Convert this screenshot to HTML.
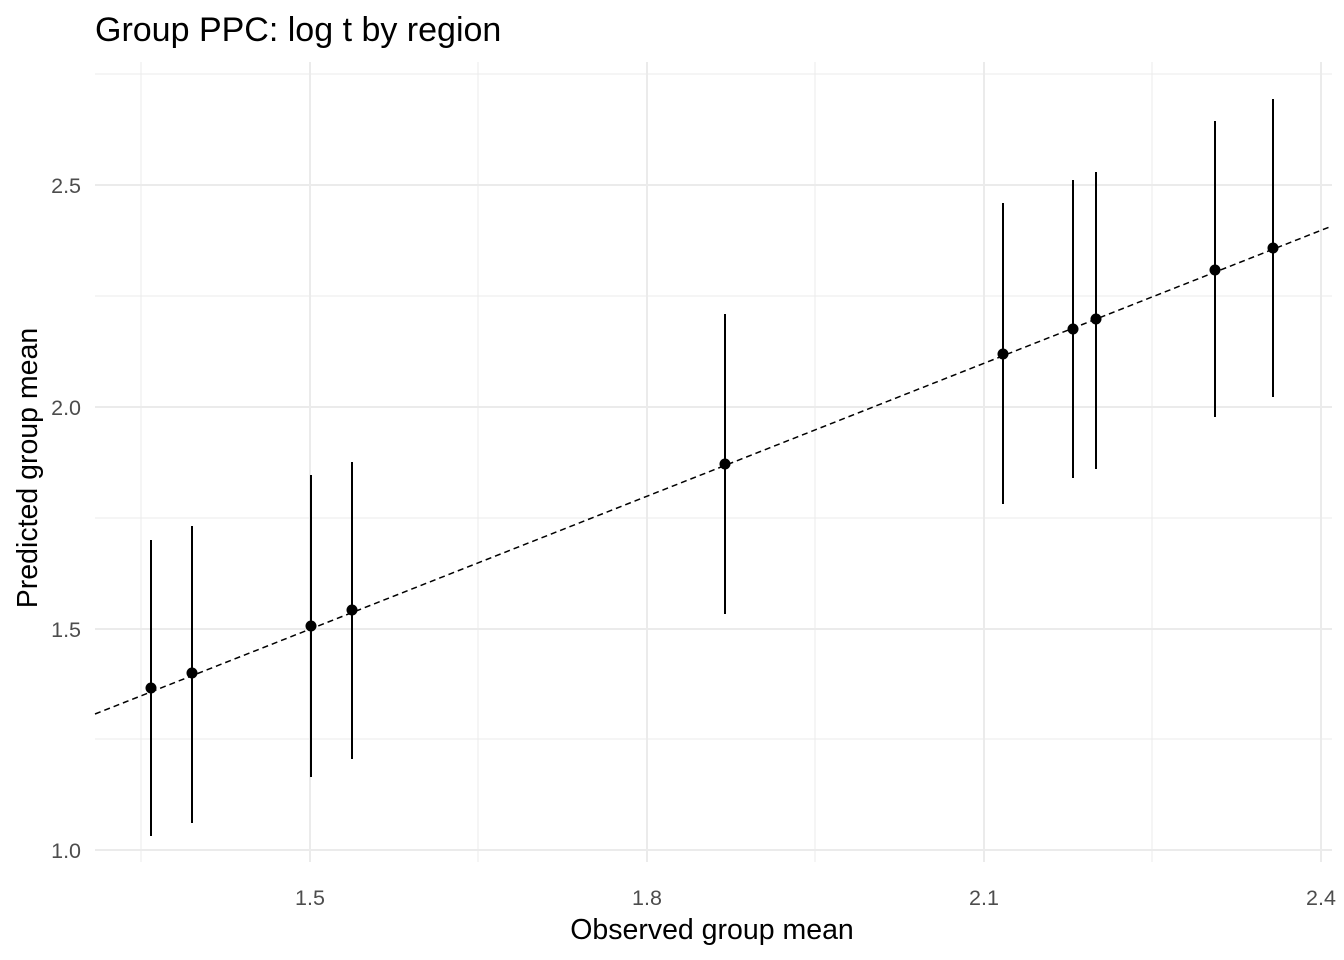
<!DOCTYPE html>
<html><head><meta charset="utf-8"><style>
html,body{margin:0;padding:0;background:#fff;}
svg{display:block;font-family:"Liberation Sans",Arial,sans-serif;}
</style></head><body>
<svg width="1344" height="960" xmlns="http://www.w3.org/2000/svg">
<rect width="1344" height="960" fill="#fff"/>
<g stroke="#ebebeb" stroke-width="1">
<line x1="95" x2="1332" y1="74" y2="74"/><line x1="95" x2="1332" y1="296" y2="296"/>
<line x1="95" x2="1332" y1="518" y2="518"/><line x1="95" x2="1332" y1="739" y2="739"/>
<line x1="141" x2="141" y1="62" y2="862"/><line x1="478" x2="478" y1="62" y2="862"/>
<line x1="815" x2="815" y1="62" y2="862"/><line x1="1152" x2="1152" y1="62" y2="862"/>
</g>
<g stroke="#ebebeb" stroke-width="2">
<line x1="95" x2="1332" y1="185" y2="185"/><line x1="95" x2="1332" y1="407" y2="407"/>
<line x1="95" x2="1332" y1="629" y2="629"/><line x1="95" x2="1332" y1="850" y2="850"/>
<line x1="310" x2="310" y1="62" y2="862"/><line x1="647" x2="647" y1="62" y2="862"/>
<line x1="984" x2="984" y1="62" y2="862"/><line x1="1321" x2="1321" y1="62" y2="862"/>
</g>
<line x1="95" y1="714" x2="1332" y2="226" stroke="#000" stroke-width="1.5" stroke-dasharray="6,4"/>
<g stroke="#000" stroke-width="2">
<line x1="151" x2="151" y1="540" y2="836"/><line x1="192" x2="192" y1="526" y2="823"/>
<line x1="311" x2="311" y1="475" y2="777"/><line x1="352" x2="352" y1="462" y2="759"/>
<line x1="725" x2="725" y1="314" y2="614"/><line x1="1003" x2="1003" y1="203" y2="504"/>
<line x1="1073" x2="1073" y1="180" y2="478"/><line x1="1096" x2="1096" y1="172" y2="469"/>
<line x1="1215" x2="1215" y1="121" y2="417"/><line x1="1273" x2="1273" y1="99" y2="397"/>
</g>
<g fill="#000">
<circle cx="151" cy="688" r="5.5"/><circle cx="192" cy="673" r="5.5"/>
<circle cx="311" cy="626" r="5.5"/><circle cx="352" cy="610" r="5.5"/>
<circle cx="725" cy="464" r="5.5"/><circle cx="1003" cy="354" r="5.5"/>
<circle cx="1073" cy="329" r="5.5"/><circle cx="1096" cy="319" r="5.5"/>
<circle cx="1215" cy="270" r="5.5"/><circle cx="1273" cy="248" r="5.5"/>
</g>
<g fill="#4d4d4d" font-size="21.5" text-anchor="end">
<text x="81" y="193">2.5</text><text x="81" y="415">2.0</text>
<text x="81" y="637">1.5</text><text x="81" y="858">1.0</text>
</g>
<g fill="#4d4d4d" font-size="21.5" text-anchor="middle">
<text x="310" y="905">1.5</text><text x="647" y="905">1.8</text>
<text x="984" y="905">2.1</text><text x="1321" y="905">2.4</text>
</g>
<text x="712" y="939" font-size="28.5" text-anchor="middle" fill="#000">Observed group mean</text>
<text transform="translate(37,468) rotate(-90)" font-size="28.5" text-anchor="middle" fill="#000">Predicted group mean</text>
<text x="95" y="41" font-size="34" fill="#000">Group PPC: log t by region</text>
</svg>
</body></html>
